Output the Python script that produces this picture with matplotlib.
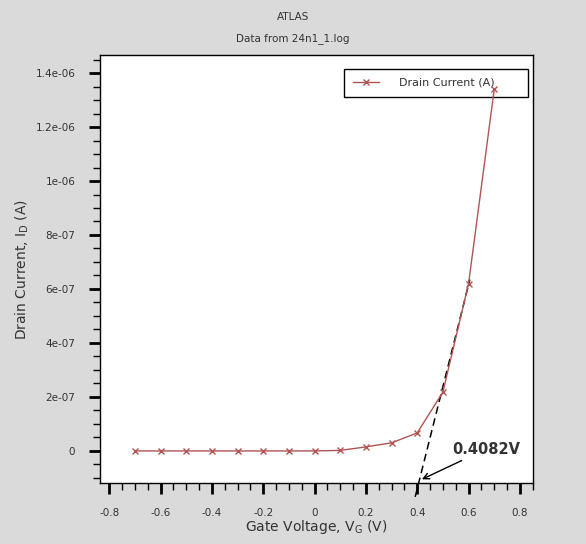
import numpy as np
import matplotlib.pyplot as plt
from matplotlib.ticker import MultipleLocator, FuncFormatter

# gate voltage sweep and drain current
vg = [-0.7, -0.6, -0.5, -0.4, -0.3, -0.2, -0.1, 0.0, 0.1, 0.2, 0.3, 0.4, 0.5, 0.6, 0.7]
id_a = [0, 0, 0, 0, 0, 0, 0, 0, 2e-9, 1.5e-8, 3.0e-8, 6.7e-8, 2.18e-7, 6.2e-7, 1.34e-6]

vth = 0.4082
tangent_v = [0.392, 0.605]
tangent_i = [-1.7e-7, 6.35e-7]

bg = '#dadada'
line_col = '#b25454'
txt_col = '#333333'

fig = plt.figure(figsize=(5.86, 5.44), dpi=100, facecolor=bg)
ax = fig.add_axes([0.171, 0.112, 0.739, 0.787])

ax.plot(vg, id_a, color=line_col, lw=1.0, marker='x', ms=4, mew=1.0,
        label='Drain Current (A)', zorder=6)
ax.plot(tangent_v, tangent_i, color='black', lw=1.1, ls=(0, (5, 3)), clip_on=False)

ax.set_xlim(-0.835, 0.852)
ax.set_ylim(-1.19e-7, 1.467e-6)

ax.xaxis.set_major_locator(MultipleLocator(0.2))
ax.xaxis.set_minor_locator(MultipleLocator(0.05))
ax.yaxis.set_major_locator(MultipleLocator(2e-7))
ax.yaxis.set_minor_locator(MultipleLocator(5e-8))


def xfmt(v, pos):
    if abs(v) < 1e-9:
        return '0'
    return '%g' % round(v, 2)


def yfmt(v, pos):
    if abs(v) < 1e-12:
        return '0'
    s = '%.1e' % v
    m, e = s.split('e')
    if m.endswith('.0'):
        m = m[:-2]
    return m + 'e' + e[0] + e[1:].zfill(2)


ax.xaxis.set_major_formatter(FuncFormatter(xfmt))
ax.yaxis.set_major_formatter(FuncFormatter(yfmt))

ax.tick_params(which='major', direction='out', length=8, width=2, colors='black',
               labelcolor=txt_col, labelsize=7.5, pad=10)
ax.tick_params(which='minor', direction='out', length=5, width=1, colors='black')
ax.tick_params(top=False, right=False, which='both')
for sp in ax.spines.values():
    sp.set_linewidth(1.0)

ax.set_xlabel(r'Gate Voltage, V$_\mathrm{G}$ (V)', fontsize=10, color=txt_col, labelpad=0)
ax.set_ylabel(r'Drain Current, I$_\mathrm{D}$ (A)', fontsize=10, color=txt_col, labelpad=3)

fig.text(0.5, 0.969, 'ATLAS', ha='center', va='center', fontsize=7.5, color=txt_col)
fig.text(0.5, 0.93, 'Data from 24n1_1.log', ha='center', va='center', fontsize=7.5, color=txt_col)

leg = ax.legend(loc='upper left', bbox_to_anchor=(0.5635, 0.0, 0.425, 0.967),
                mode='expand', fontsize=8,
                frameon=True, fancybox=False, edgecolor='black', framealpha=1,
                handlelength=2.3, borderpad=0.8, handletextpad=1.8, borderaxespad=0)
leg.get_frame().set_linewidth(1.0)
for t in leg.get_texts():
    t.set_color(txt_col)

ax.annotate('%.4fV' % vth, xy=(vth + 0.01, -1.05e-7), xytext=(0.535, -1.0e-8),
            fontsize=10.5, fontweight='bold', color=txt_col,
            arrowprops=dict(arrowstyle='->', color='black', lw=1.0,
                            shrinkA=2, shrinkB=0))

fig.savefig('out.png', dpi=100, facecolor=bg)
